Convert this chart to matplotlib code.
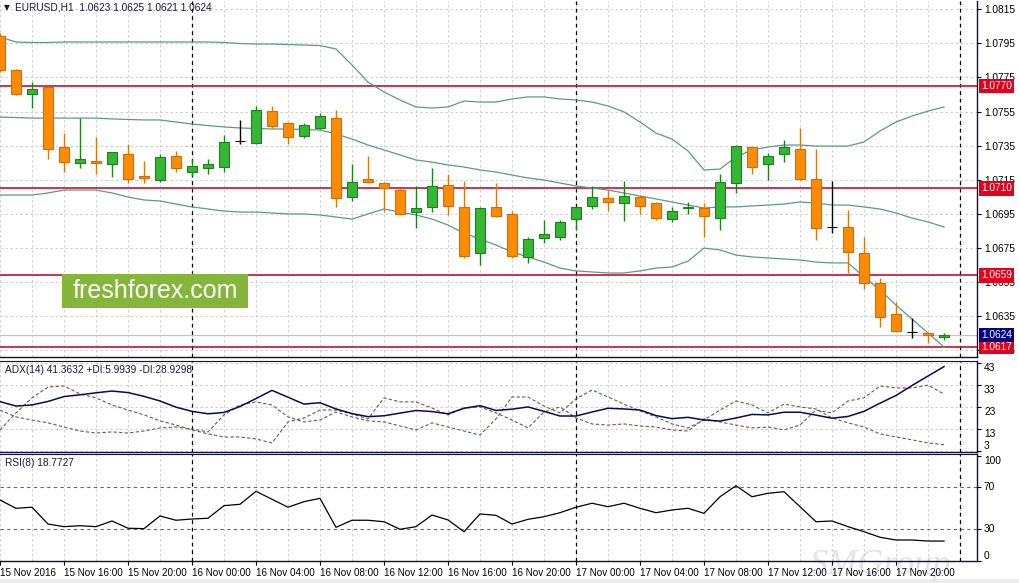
import matplotlib.pyplot as plt
import numpy as np
from matplotlib.patches import Rectangle

plt.rcParams['font.family'] = ['Liberation Sans', 'DejaVu Sans']

# EURUSD H1, one bar per hour from 15 Nov 2016 12:00 to 17 Nov 23:00
opens = [1.07993, 1.07794, 1.07653, 1.07694, 1.07342, 1.07249, 1.07260, 1.07243, 1.07301, 1.07172,
         1.07149, 1.07290, 1.07196, 1.07219, 1.07225, 1.07378, 1.07366, 1.07553, 1.07483, 1.07407,
         1.07454, 1.07512, 1.07049, 1.07155, 1.07131, 1.07090, 1.06961, 1.06991, 1.07120, 1.06991,
         1.06721, 1.06991, 1.06950, 1.06698, 1.06809, 1.06815, 1.06920, 1.06997, 1.07043, 1.07014,
         1.07049, 1.07014, 1.06920, 1.06985, 1.06985, 1.06926, 1.07131, 1.07342, 1.07243, 1.07301,
         1.07331, 1.07155, 1.06874, 1.06874, 1.06721, 1.06545, 1.06364, 1.06258, 1.06252, 1.06230]
highs = [1.08011, 1.07800, 1.07723, 1.07700, 1.07424, 1.07512, 1.07401, 1.07313, 1.07360, 1.07260,
         1.07301, 1.07319, 1.07272, 1.07272, 1.07413, 1.07501, 1.07583, 1.07583, 1.07489, 1.07483,
         1.07542, 1.07559, 1.07243, 1.07290, 1.07137, 1.07096, 1.07114, 1.07219, 1.07184, 1.07143,
         1.06991, 1.07131, 1.06967, 1.06815, 1.06914, 1.06914, 1.06997, 1.07114, 1.07090, 1.07143,
         1.07061, 1.07020, 1.06991, 1.07020, 1.07014, 1.07184, 1.07354, 1.07348, 1.07307, 1.07383,
         1.07454, 1.07331, 1.07143, 1.06973, 1.06815, 1.06575, 1.06434, 1.06340, 1.06252, 1.06250]
lows = [1.07782, 1.07647, 1.07571, 1.07272, 1.07196, 1.07219, 1.07184, 1.07167, 1.07131, 1.07131,
        1.07137, 1.07196, 1.07172, 1.07184, 1.07196, 1.07360, 1.07360, 1.07454, 1.07360, 1.07395,
        1.07448, 1.06991, 1.07026, 1.07131, 1.06961, 1.06944, 1.06868, 1.06961, 1.06944, 1.06692,
        1.06651, 1.06932, 1.06692, 1.06663, 1.06780, 1.06797, 1.06856, 1.06979, 1.06967, 1.06909,
        1.06950, 1.06914, 1.06903, 1.06950, 1.06815, 1.06856, 1.07073, 1.07184, 1.07149, 1.07254,
        1.07149, 1.06797, 1.06838, 1.06604, 1.06510, 1.06287, 1.06258, 1.06223, 1.06194, 1.06210]
closes = [1.07794, 1.07653, 1.07682, 1.07331, 1.07254, 1.07272, 1.07249, 1.07313, 1.07155, 1.07161,
          1.07284, 1.07219, 1.07231, 1.07243, 1.07372, 1.07378, 1.07559, 1.07466, 1.07401, 1.07471,
          1.07524, 1.07043, 1.07137, 1.07137, 1.07102, 1.06950, 1.06985, 1.07114, 1.06997, 1.06703,
          1.06985, 1.06938, 1.06703, 1.06803, 1.06832, 1.06903, 1.06991, 1.07049, 1.07020, 1.07055,
          1.06997, 1.06926, 1.06967, 1.06991, 1.06938, 1.07137, 1.07348, 1.07225, 1.07290, 1.07342,
          1.07155, 1.06868, 1.06874, 1.06727, 1.06545, 1.06346, 1.06264, 1.06258, 1.06240, 1.06240]

# Bollinger bands
bb_upper = [1.07987, 1.07958, 1.07955, 1.07955, 1.07958, 1.07958, 1.07958, 1.07958, 1.07958, 1.07958,
            1.07958, 1.07958, 1.07958, 1.07958, 1.07955, 1.07949, 1.07946, 1.07946, 1.07943, 1.07940,
            1.07937, 1.07917, 1.07823, 1.07723, 1.07665, 1.07618, 1.07577, 1.07571, 1.07577, 1.07612,
            1.07606, 1.07606, 1.07624, 1.07636, 1.07636, 1.07624, 1.07618, 1.07606, 1.07583, 1.07548,
            1.07489, 1.07424, 1.07389, 1.07319, 1.07208, 1.07213, 1.07284, 1.07325, 1.07342, 1.07354,
            1.07354, 1.07348, 1.07348, 1.07348, 1.07372, 1.07436, 1.07489, 1.07524, 1.07553, 1.07577]
bb_middle = [1.07518, 1.07515, 1.07512, 1.07512, 1.07512, 1.07512, 1.07512, 1.07507, 1.07504, 1.07501,
             1.07501, 1.07489, 1.07477, 1.07468, 1.07460, 1.07454, 1.07451, 1.07448, 1.07448, 1.07445,
             1.07442, 1.07419, 1.07389, 1.07354, 1.07325, 1.07296, 1.07266, 1.07254, 1.07237, 1.07225,
             1.07208, 1.07196, 1.07178, 1.07161, 1.07149, 1.07131, 1.07114, 1.07102, 1.07090, 1.07073,
             1.07055, 1.07038, 1.07020, 1.07002, 1.06985, 1.06991, 1.06991, 1.06997, 1.07002, 1.07008,
             1.07020, 1.07014, 1.07002, 1.07002, 1.06991, 1.06979, 1.06956, 1.06926, 1.06903, 1.06874]
bb_lower = [1.07061, 1.07061, 1.07061, 1.07073, 1.07090, 1.07090, 1.07090, 1.07073, 1.07049, 1.07032,
            1.07026, 1.07008, 1.06991, 1.06979, 1.06967, 1.06961, 1.06961, 1.06956, 1.06950, 1.06950,
            1.06944, 1.06932, 1.06920, 1.06950, 1.06979, 1.06961, 1.06944, 1.06920, 1.06885, 1.06838,
            1.06803, 1.06768, 1.06727, 1.06698, 1.06668, 1.06633, 1.06616, 1.06610, 1.06604, 1.06604,
            1.06616, 1.06633, 1.06639, 1.06674, 1.06750, 1.06739, 1.06709, 1.06698, 1.06692, 1.06686,
            1.06680, 1.06668, 1.06663, 1.06663, 1.06581, 1.06504, 1.06416, 1.06334, 1.06252, 1.06170]

# ADX(14)
adx = [25.5, 23.5, 24.0, 25.6, 27.8, 28.6, 29.5, 30.3, 29.6, 27.9,
       25.8, 23.0, 21.1, 20.0, 20.6, 23.3, 26.9, 30.6, 27.5, 24.4,
       25.0, 22.2, 20.1, 18.7, 19.1, 20.3, 21.5, 21.0, 20.0, 22.5,
       23.7, 21.5, 22.1, 23.1, 21.1, 19.0, 19.0, 20.8, 22.5, 22.2,
       21.7, 19.2, 17.8, 18.4, 17.2, 16.7, 18.1, 19.7, 19.5, 20.7,
       20.7, 19.4, 18.0, 18.8, 21.1, 24.8, 28.3, 32.8, 37.1, 41.36]
plus_di = [21.7, 18.6, 17.2, 15.9, 14.0, 12.2, 11.3, 11.8, 11.3, 12.2,
           13.6, 14.0, 13.1, 11.8, 19.5, 24.0, 25.4, 24.0, 18.6, 16.3,
           17.2, 20.8, 18.6, 16.8, 16.3, 14.5, 12.7, 15.9, 14.0, 12.2,
           10.4, 17.7, 27.6, 27.6, 23.5, 20.4, 26.7, 30.8, 27.6, 24.4,
           21.3, 18.6, 15.4, 13.6, 17.2, 21.7, 25.8, 24.0, 20.4, 24.4,
           23.1, 22.2, 18.1, 15.9, 14.0, 10.9, 9.5, 8.2, 6.8, 5.99]
minus_di = [12.7, 20.4, 27.2, 32.1, 32.6, 29.0, 27.2, 24.0, 21.7, 19.5,
            16.8, 14.9, 12.7, 10.9, 9.5, 9.5, 8.6, 6.8, 16.3, 18.1,
            21.7, 21.7, 19.9, 17.7, 27.2, 25.4, 25.4, 22.6, 19.5, 22.6,
            23.1, 20.4, 17.2, 13.6, 20.8, 23.1, 18.1, 15.4, 14.9, 15.4,
            14.5, 14.0, 12.7, 12.2, 17.7, 16.3, 14.9, 13.6, 14.0, 12.7,
            14.9, 21.7, 20.4, 25.8, 27.2, 32.6, 31.7, 31.7, 33.0, 28.93]

# RSI(8)
rsi = [57.9, 50.0, 51.0, 35.0, 32.5, 33.4, 32.5, 37.9, 31.0, 30.6,
       42.7, 38.6, 39.8, 40.5, 52.5, 53.8, 66.2, 58.6, 51.0, 56.3,
       59.5, 31.9, 38.6, 38.6, 37.2, 30.0, 32.5, 43.6, 38.9, 27.7,
       44.6, 43.3, 35.0, 39.5, 42.0, 45.8, 51.0, 54.8, 51.5, 54.8,
       50.0, 45.8, 48.4, 50.0, 45.2, 61.0, 71.5, 61.0, 64.3, 65.8,
       51.5, 37.2, 37.9, 32.5, 27.7, 22.4, 19.8, 19.8, 18.8, 18.77]

levels = [1.0770, 1.0710, 1.0659, 1.0617]
bid = 1.0624
price_ticks = [1.0815, 1.0795, 1.0775, 1.0755, 1.0735, 1.0715, 1.0695, 1.0675, 1.0655, 1.0635, 1.0615]
adx_ticks = [43, 33, 23, 13, 3]
rsi_ticks = [100, 70, 30, 0]
rsi_levels = [70, 30]
time_labels = ['15 Nov 2016', '15 Nov 16:00', '15 Nov 20:00', '16 Nov 00:00', '16 Nov 04:00',
               '16 Nov 08:00', '16 Nov 12:00', '16 Nov 16:00', '16 Nov 20:00', '17 Nov 00:00',
               '17 Nov 04:00', '17 Nov 08:00', '17 Nov 12:00', '17 Nov 16:00', '17 Nov 20:00']
day_breaks = [12, 36, 60]   # bar index of each midnight

GREEN, GREEN_EDGE = '#34b834', '#1f7f1f'
ORANGE, ORANGE_EDGE = '#ff8c00', '#d06c00'
GRID = '#c8c8c8'
FRAME = '#10103a'
TXT = '#1a1a40'

W, H = 1019, 583
fig = plt.figure(figsize=(W / 100, H / 100), dpi=100, facecolor='white')


def px_box(left, top, right, bottom):
    return [left / W, 1 - bottom / H, (right - left) / W, (bottom - top) / H]


ax = fig.add_axes(px_box(0, 1, 977, 357))
ax_adx = fig.add_axes(px_box(0, 361, 977, 452))
ax_rsi = fig.add_axes(px_box(0, 454, 977, 561))

x = np.arange(len(opens))
o, h, l, c = (np.array(v) for v in (opens, highs, lows, closes))
face = np.where(c > o, GREEN, np.where(c < o, ORANGE, 'black'))
edge = np.where(c > o, GREEN_EDGE, np.where(c < o, ORANGE_EDGE, 'black'))
wick = np.where(c > o, GREEN_EDGE, np.where(c < o, '#d8761a', 'black'))

for a in (ax, ax_adx, ax_rsi):
    a.set_facecolor('none')
    a.set_xlim(0, 977 / 16)
    a.set_xticks(np.arange(0, len(opens), 4))
    a.set_xticks(np.arange(0, len(opens) + 2, 2), minor=True)
    a.grid(True, axis='x', which='both', color=GRID, linestyle=(0, (3, 3)), linewidth=0.6)
    a.set_axisbelow(True)
    for xb in day_breaks:
        a.axvline(xb, color='black', linestyle=(0, (3, 3)), linewidth=0.9, zorder=1.5)
    for s in ('left', 'top'):
        a.spines[s].set_visible(False)
    for s in ('right', 'bottom'):
        a.spines[s].set_color(FRAME)
        a.spines[s].set_linewidth(1.0)
    a.tick_params(axis='x', which='both', length=0, labelbottom=False)
    a.tick_params(axis='y', left=False, labelleft=False, right=True, labelright=True,
                  length=3, width=0.8, direction='out', pad=2, labelsize=7.3, colors='black')
    a.tick_params(axis='y', which='minor', length=0)
for a in (ax_adx, ax_rsi):
    a.spines['top'].set_visible(True)
    a.spines['top'].set_color(FRAME)

# main price window
ax.set_ylim(1.061115, 1.081982)
ax.set_yticks(price_ticks)
ax.set_yticklabels([f'{p:.4f}' for p in price_ticks])
ax.grid(True, axis='y', color=GRID, linestyle=(0, (3, 3)), linewidth=0.6)

ax.plot(x, bb_upper, color='#5a9a8a', linewidth=0.9, zorder=2)
ax.plot(x, bb_middle, color='#5a9a8a', linewidth=0.9, zorder=2)
ax.plot(x, bb_lower, color='#5a9a8a', linewidth=0.9, zorder=2)

ax.axhline(bid, color='#c4c4c4', linewidth=0.9, zorder=1.6)
for lv in levels:
    ax.axhline(lv, color='#c8102e', linewidth=1.2, zorder=1.7)

ax.vlines(x, l, h, colors=wick, linewidth=1.0, zorder=3)
ax.bar(x, np.abs(c - o), bottom=np.minimum(o, c), width=0.62, color=face,
       edgecolor=edge, linewidth=0.8, zorder=4)

ytr = ax.get_yaxis_transform()
for lv in levels:
    ax.text(1.004, lv, f'{lv:.4f}', transform=ytr, ha='left', va='center', fontsize=7.3,
            color='white', clip_on=False, zorder=20,
            bbox=dict(boxstyle='square,pad=0.22', fc='#e3001b', ec='none'))
ax.text(1.004, bid, f'{bid:.4f}', transform=ytr, ha='left', va='center', fontsize=7.3,
        color='white', clip_on=False, zorder=20,
        bbox=dict(boxstyle='square,pad=0.22', fc='#000080', ec='none'))

ax.text(4 / 977, 1 - 7 / 356, '\u25bc', transform=ax.transAxes, fontsize=5.5, color=TXT,
        ha='left', va='center', family='DejaVu Sans')
ax.text(15 / 977, 1 - 7 / 356, 'EURUSD,H1  1.0623 1.0625 1.0621 1.0624', transform=ax.transAxes,
        fontsize=7.3, color=TXT, ha='left', va='center')

# ADX window
ax_adx.set_ylim(2.7, 43.9)
ax_adx.set_yticks(adx_ticks)
ax_adx.set_yticklabels([str(t) for t in adx_ticks])
ax_adx.grid(True, axis='y', color=GRID, linestyle=(0, (3, 3)), linewidth=0.6)
for t, lab in zip(adx_ticks, ax_adx.get_yticklabels()):
    lab.set_va('bottom' if t == adx_ticks[-1] else 'top')
ax_adx.plot(x, adx, color='#0a0a50', linewidth=1.1, zorder=3)
ax_adx.plot(x, plus_di, color='#4d6b4d', linewidth=0.8, linestyle=(0, (3, 2)), zorder=2)
ax_adx.plot(x, minus_di, color='#8a4a4a', linewidth=0.8, linestyle=(0, (3, 2)), zorder=2)
ax_adx.text(5 / 977, 0.9, 'ADX(14) 41.3632 +DI:5.9939 -DI:28.9298', transform=ax_adx.transAxes,
            fontsize=7.3, color=TXT, ha='left', va='center')

# RSI window
ax_rsi.set_ylim(-0.2, 101.7)
ax_rsi.set_yticks(rsi_ticks)
ax_rsi.set_yticklabels([str(t) for t in rsi_ticks])
for t, lab in zip(rsi_ticks, ax_rsi.get_yticklabels()):
    lab.set_va({100: 'top', 0: 'bottom'}.get(t, 'center'))
for lv in rsi_levels:
    ax_rsi.axhline(lv, color='#b04848', linestyle=(0, (3, 3)), linewidth=0.8, zorder=1.6)
ax_rsi.plot(x, rsi, color='black', linewidth=0.9, zorder=3)
ax_rsi.text(5 / 977, 0.915, 'RSI(8) 18.7727', transform=ax_rsi.transAxes,
            fontsize=7.3, color=TXT, ha='left', va='center')
ax_rsi.set_xticklabels(time_labels)
ax_rsi.tick_params(axis='x', which='major', length=3, width=0.8, direction='out',
                   labelbottom=True, labelsize=7.1, pad=2, colors='black')
for lab in ax_rsi.get_xticklabels():
    lab.set_ha('left')

# logo and watermark
fig.add_artist(Rectangle((62 / W, 1 - 308 / H), 186 / W, 34 / H, transform=fig.transFigure,
                         fc='#86b53c', ec='none', zorder=30))
fig.text(155 / W, 1 - 291 / H, 'freshforex.com', ha='center', va='center', color='white',
         fontsize=18, zorder=31)
fig.text(810 / W, 1 - 566 / H, 'SMGroup', ha='left', va='center', color='#e4e4e4',
         fontsize=26, style='italic', family='Liberation Serif', zorder=-1)
fig.add_artist(Rectangle((0, 0), 1, 4 / H, transform=fig.transFigure, fc='#ececec', ec='none',
                         zorder=-2))

fig.savefig('out.png', dpi=100, facecolor='white')
